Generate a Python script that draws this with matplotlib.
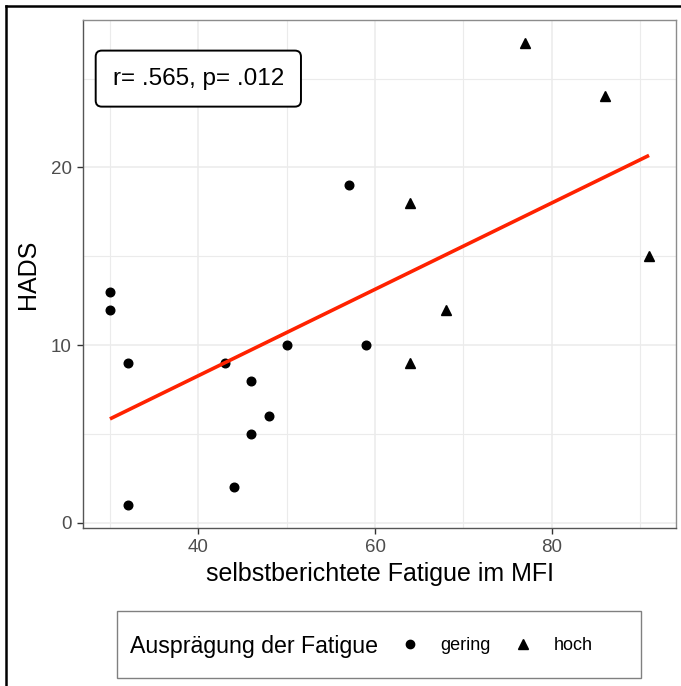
import numpy as np
import matplotlib
matplotlib.use('Agg')
import matplotlib.pyplot as plt
from matplotlib.lines import Line2D
from matplotlib.patches import Rectangle

plt.rcParams['font.family'] = ['Liberation Sans', 'DejaVu Sans']

# fatigue group "gering"
mfi_gering = [30, 30, 32, 32, 43, 44, 46, 46, 48, 50, 57, 59]
hads_gering = [13, 12, 9, 1, 9, 2, 8, 5, 6, 10, 19, 10]

# fatigue group "hoch"
mfi_hoch = [64, 64, 68, 77, 86, 91]
hads_hoch = [18, 9, 12, 27, 24, 15]

group_labels = ['gering', 'hoch']
x_ticks = [40, 60, 80]
y_ticks = [0, 10, 20]
stat_label = 'r= .565, p= .012'

W, H = 681, 686
fig = plt.figure(figsize=(W / 100, H / 100), dpi=100)
ax = fig.add_axes([83 / W, 1 - 528 / H, (676 - 83) / W, (528 - 20) / H])

# grid like theme_bw
ax.set_axisbelow(True)
ax.set_xticks(x_ticks)
ax.set_yticks(y_ticks)
ax.set_xticks([30, 50, 70, 90], minor=True)
ax.set_yticks([5, 15, 25], minor=True)
ax.grid(which='major', color='#EBEBEB', linewidth=1.1)
ax.grid(which='minor', color='#EBEBEB', linewidth=0.8)
ax.tick_params(which='minor', length=0)
ax.tick_params(which='major', length=4, width=1, color='#333333',
               labelsize=13.5, labelcolor='#4D4D4D', pad=4)
for side in ax.spines.values():
    side.set_color('#8C8C8C')
    side.set_linewidth(1)
ax.spines['left'].set_color('#555555')
ax.spines['bottom'].set_color('#555555')

# points
ax.plot(mfi_gering, hads_gering, 'o', color='black', markersize=6.2, linestyle='none')
ax.plot(mfi_hoch, hads_hoch, '^', color='black', markersize=7.5, linestyle='none')

# linear fit over all points
x_all = np.array(mfi_gering + mfi_hoch)
y_all = np.array(hads_gering + hads_hoch)
slope, intercept = np.polyfit(x_all, y_all, 1)
xs = np.array([x_all.min(), x_all.max()])
ax.plot(xs, intercept + slope * xs, color='#FF2200', linewidth=2.6, solid_capstyle='butt')

# ggplot style 5% expansion
xr = x_all.max() - x_all.min()
yr = y_all.max() - y_all.min()
ax.set_xlim(x_all.min() - 0.05 * xr, x_all.max() + 0.05 * xr)
ax.set_ylim(y_all.min() - 0.05 * yr, y_all.max() + 0.05 * yr)

ax.set_xlabel('selbstberichtete Fatigue im MFI', fontsize=18, labelpad=4)
ax.set_ylabel('HADS', fontsize=18, labelpad=8)

ax.text(40, 25, stat_label, fontsize=17.5, ha='center', va='center',
        bbox=dict(boxstyle='round,pad=0.7,rounding_size=0.25', fc='white', ec='black', lw=1.4))

# legend at the bottom, title to the left of the keys
handles = [Line2D([], [], marker='o', color='black', linestyle='none', markersize=6),
           Line2D([], [], marker='^', color='black', linestyle='none', markersize=7.5)]
fig.legend(handles, group_labels, ncol=2, loc='center left',
           bbox_to_anchor=(401 / W, 1 - 646 / H), frameon=False, fontsize=13,
           handlelength=1.0, handletextpad=1.2, columnspacing=1.25,
           borderpad=0, borderaxespad=0)
fig.text(130 / W, 1 - 646 / H, 'Ausprägung der Fatigue', fontsize=16.7, va='center', ha='left')
fig.add_artist(Rectangle((117 / W, 1 - 678 / H), (641 - 117) / W, (678 - 611) / H,
                         transform=fig.transFigure, fill=False, ec='#808080', lw=1))

# outer frame (left and top edges visible)
fig.add_artist(Line2D([6 / W, 6 / W], [0, 1 - 6 / H], transform=fig.transFigure, color='black', lw=1.8))
fig.add_artist(Line2D([6 / W, 1], [1 - 6 / H, 1 - 6 / H], transform=fig.transFigure, color='black', lw=1.8))

fig.savefig('out.png', dpi=100, facecolor='white')
